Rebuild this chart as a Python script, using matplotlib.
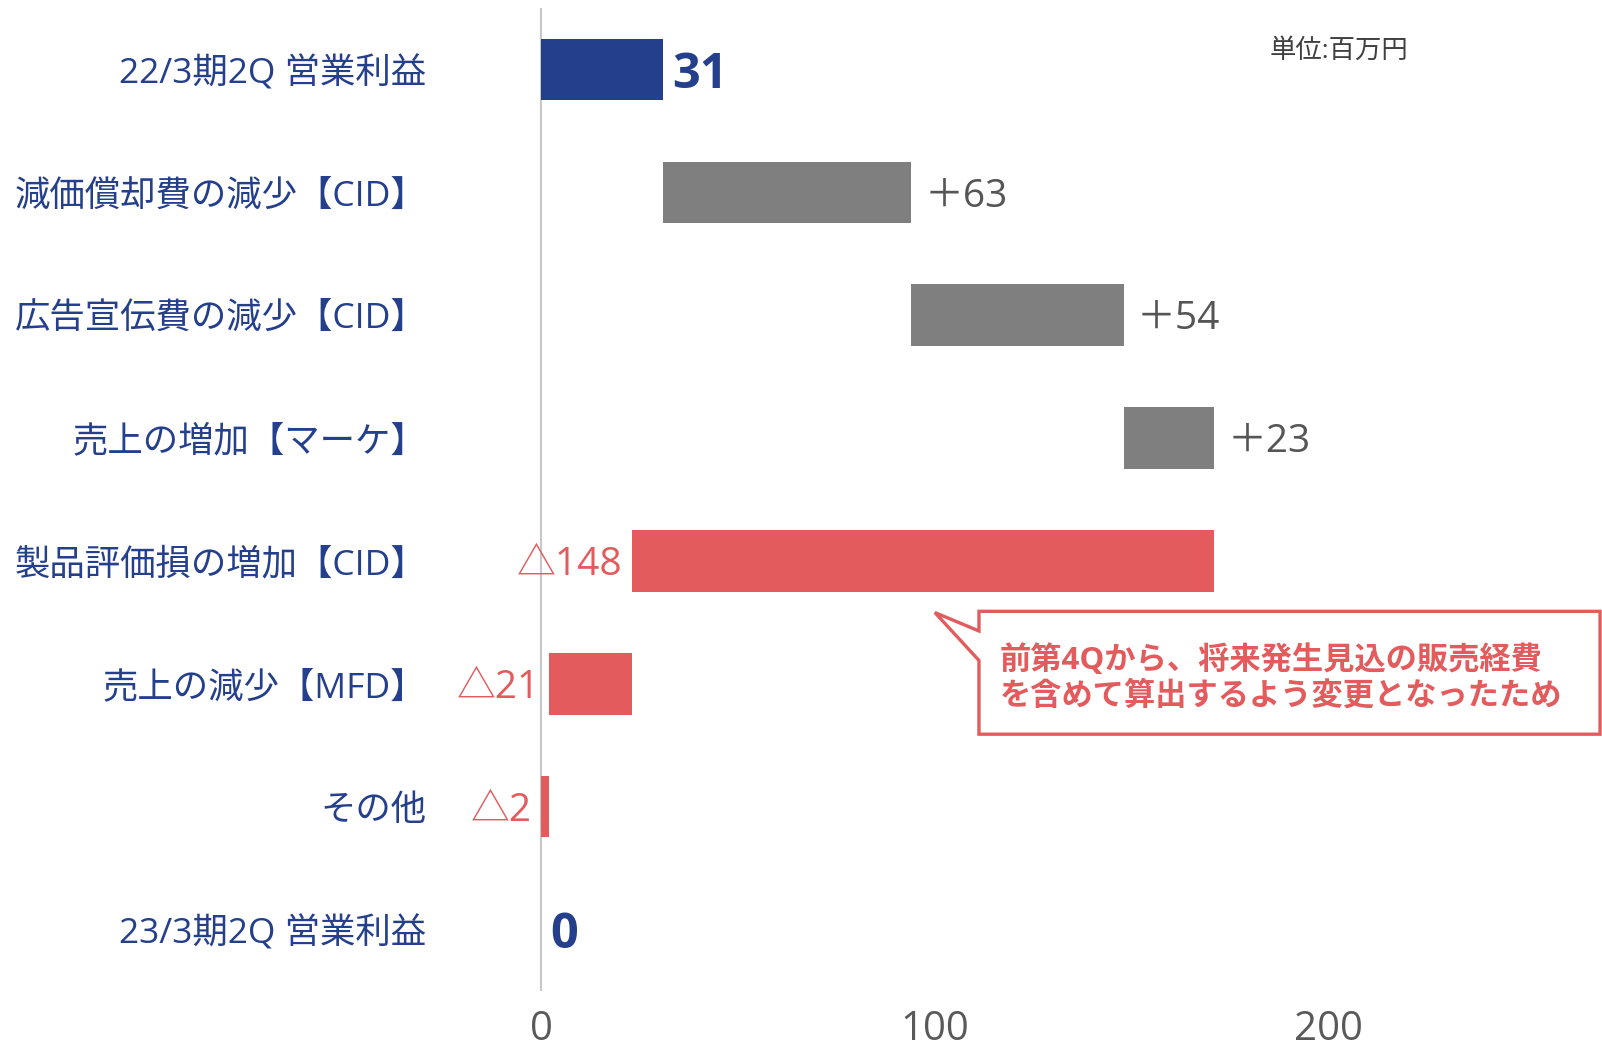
import matplotlib
matplotlib.use("Agg")
import matplotlib.pyplot as plt
from matplotlib.patches import Polygon

# Latin glyphs from Open Sans, Japanese falls through to Noto CJK
plt.rcParams["font.family"] = ["Open Sans", "Noto Sans CJK JP", "DejaVu Sans"]

# 営業利益の増減要因 (単位: 百万円)
categories = [
    "22/3期2Q 営業利益",
    "減価償却費の減少【CID】",
    "広告宣伝費の減少【CID】",
    "売上の増加【マーケ】",
    "製品評価損の増加【CID】",
    "売上の減少【MFD】",
    "その他",
    "23/3期2Q 営業利益",
]
start_value = 31
deltas = [63, 54, 23, -148, -21, -2]
end_value = 0

x_ticks = [0, 100, 200]

BLUE = "#243f8c"
GRAY = "#7f7f7f"
RED = "#e35b5d"
LABEL_GRAY = "#555555"

W, H = 1602, 1050
fig = plt.figure(figsize=(W / 100, H / 100), dpi=100)
ax = fig.add_axes([439 / W, 1 - 991 / H, (W - 439) / W, (991 - 8) / H])

n = len(categories)
ypos = list(range(n))

# totals at both ends, floating bars in between
lefts, widths, colors, texts, tcolors, tsides = [], [], [], [], [], []
lefts.append(0); widths.append(start_value); colors.append(BLUE)
texts.append(f"{start_value}"); tcolors.append(BLUE); tsides.append("r")
running = start_value
for d in deltas:
    lo = min(running, running + d)
    lefts.append(lo)
    widths.append(abs(d))
    if d >= 0:
        colors.append(GRAY); texts.append(f"＋{d}"); tcolors.append(LABEL_GRAY); tsides.append("r")
    else:
        colors.append(RED); texts.append(f"△{-d}"); tcolors.append(RED); tsides.append("l")
    running += d
lefts.append(0); widths.append(end_value); colors.append(BLUE)
texts.append(f"{end_value}"); tcolors.append(BLUE); tsides.append("r")

ax.barh(ypos, widths, left=lefts, height=0.5, color=colors, zorder=2)

for i in range(n):
    bold = i in (0, n - 1)
    if tsides[i] == "r":
        x = lefts[i] + widths[i] + (2.3 if bold else 3.3)
        ha = "left"
    else:
        x = lefts[i] - 2.3
        ha = "right"
    ax.text(x, ypos[i] + (0.05 if bold else 0.035), texts[i], ha=ha, va="center",
            color=tcolors[i], fontsize=35 if bold else 28,
            fontweight="bold" if bold else "normal", zorder=3)

ax.axvline(0, color="#c8c8c8", lw=1.5, zorder=1)

ax.set_xlim(-26, 269.5)
ax.set_ylim(n - 0.5, -0.5)
ax.set_yticks(ypos)
ax.set_yticklabels(categories, fontsize=25.5, color=BLUE)
ax.set_xticks(x_ticks)
ax.set_xticklabels([str(t) for t in x_ticks], fontsize=29, color="#595959")
ax.tick_params(axis="both", length=0)
ax.tick_params(axis="y", pad=9)
ax.tick_params(axis="x", pad=13)
for s in ax.spines.values():
    s.set_visible(False)

# callout for 製品評価損
box = [(111.2, 4.41), (269.0, 4.41), (269.0, 5.41), (111.2, 5.41),
       (111.2, 4.81), (100.0, 4.42), (111.2, 4.57)]
ax.add_patch(Polygon(box, closed=True, facecolor="white", edgecolor=RED,
                     lw=2.4, zorder=4, clip_on=False))
ax.text(116.5, 4.95, "前第4Qから、将来発生見込の販売経費\nを含めて算出するよう変更となったため",
        ha="left", va="center", color=RED, fontsize=22.5, fontweight="bold",
        linespacing=1.2, zorder=5)

fig.text(1270 / W, 1 - 51 / H, "単位:百万円", ha="left", va="center",
         fontsize=19, color="#404040")

fig.savefig("out.png", dpi=100)
